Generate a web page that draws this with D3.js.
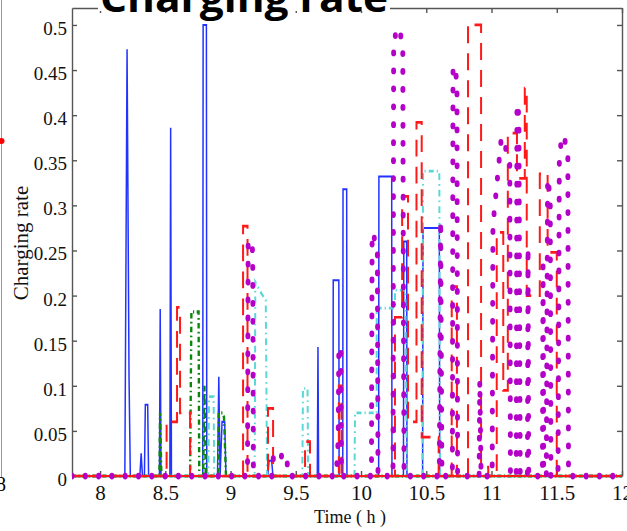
<!DOCTYPE html>
<html>
<head>
<meta charset="utf-8">
<script src="https://cdn.jsdelivr.net/npm/d3@7"></script>
<style>
    body { margin: 0; background: #fff; }
    svg { display: block; }
</style>
</head>
<body>
<div id="chart"></div>
<script>
// axis ticks
const timeTicks = [8, 8.5, 9, 9.5, 10, 10.5, 11, 11.5, 12];
const rateTicks = [0, 0.05, 0.1, 0.15, 0.2, 0.25, 0.3, 0.35, 0.4, 0.45, 0.5];
const timeDomain = [7.785, 12];
const rateMax = 0.5188;

// series as [time (h), charging rate]
const blueSeries = [
    [7.785, 0], [8.19, 0], [8.207, 0.473], [8.222, 0.11], [8.232, 0],
    [8.305, 0], [8.315, 0.025], [8.325, 0], [8.34, 0], [8.347, 0.079], [8.365, 0.079], [8.372, 0],
    [8.455, 0], [8.461, 0.185], [8.467, 0],
    [8.535, 0], [8.541, 0.386], [8.547, 0],
    [8.787, 0], [8.79, 0.5], [8.815, 0.5], [8.818, 0],
    [8.9, 0], [8.91, 0.11], [8.92, 0], [8.935, 0.06], [8.955, 0.06], [8.965, 0],
    [9.285, 0], [9.295, 0.017], [9.315, 0.017], [9.325, 0],
    [9.665, 0], [9.67, 0.143], [9.675, 0],
    [9.785, 0], [9.787, 0.217], [9.83, 0.217], [9.832, 0],
    [9.86, 0], [9.862, 0.318], [9.89, 0.318], [9.892, 0],
    [10.135, 0], [10.137, 0.332], [10.235, 0.332], [10.237, 0],
    [10.325, 0], [10.328, 0.26], [10.35, 0.26], [10.352, 0],
    [10.472, 0], [10.475, 0.275], [10.6, 0.275], [10.603, 0],
    [12, 0]
];

const greenSeries = [
    [7.785, 0], [8.455, 0], [8.46, 0.07], [8.47, 0],
    [8.69, 0], [8.7, 0.182], [8.755, 0.182], [8.76, 0],
    [8.79, 0], [8.8, 0.1], [8.81, 0],
    [8.905, 0], [8.91, 0.07], [8.94, 0.07], [8.95, 0.065], [8.965, 0],
    [12, 0]
];

const cyanSeries = [
    [7.785, 0], [8.83, 0], [8.835, 0.088], [8.87, 0.088], [8.875, 0],
    [9.185, 0], [9.19, 0.215], [9.225, 0.205], [9.27, 0.195], [9.28, 0],
    [9.55, 0], [9.555, 0.097], [9.59, 0.097], [9.595, 0],
    [9.95, 0], [9.954, 0.07], [10.12, 0.07], [10.12, 0.186], [10.26, 0.186],
    [10.26, 0.206], [10.34, 0.206], [10.35, 0],
    [10.47, 0], [10.475, 0.338], [10.6, 0.338], [10.605, 0],
    [12, 0]
];

const redSeries = [
    [7.785, 0], [8.51, 0], [8.51, 0.06], [8.59, 0.06], [8.59, 0.187], [8.613, 0.187],
    [8.613, 0.07], [8.69, 0.07], [8.69, 0],
    [9.096, 0], [9.096, 0.277], [9.13, 0.277], [9.13, 0],
    [9.287, 0], [9.287, 0.075], [9.326, 0.075], [9.326, 0],
    [9.571, 0], [9.571, 0.038], [9.609, 0.038], [9.609, 0],
    [9.83, 0], [9.83, 0.1], [9.85, 0.1], [9.85, 0],
    [10.26, 0], [10.26, 0.176], [10.315, 0.176], [10.315, 0.31], [10.36, 0.31],
    [10.36, 0.06], [10.425, 0.06], [10.425, 0.392], [10.465, 0.392],
    [10.465, 0.043], [10.595, 0.043], [10.595, 0],
    [10.695, 0], [10.695, 0.21], [10.735, 0.21], [10.735, 0],
    [10.82, 0], [10.82, 0.5], [10.92, 0.5], [10.92, 0.01], [10.975, 0.01], [10.975, 0],
    [11.04, 0], [11.04, 0.27], [11.09, 0.27], [11.09, 0.095], [11.125, 0.095],
    [11.125, 0.38], [11.195, 0.38], [11.195, 0.33], [11.255, 0.33], [11.255, 0.43],
    [11.27, 0.43], [11.27, 0.2], [11.37, 0.2], [11.37, 0.335], [11.43, 0.335],
    [11.43, 0.248], [11.5, 0.248], [11.5, 0],
    [12, 0]
];

const magentaSeries = [
    [7.785, 0], [9.13, 0], [9.135, 0.262], [9.17, 0.25], [9.175, 0],
    [9.32, 0], [9.33, 0.025], [9.36, 0.02], [9.43, 0.025], [9.44, 0],
    [9.81, 0], [9.825, 0.04], [9.83, 0.143], [9.845, 0.143], [9.85, 0],
    [10.08, 0], [10.085, 0.27], [10.125, 0.255], [10.13, 0],
    [10.245, 0], [10.25, 0.484], [10.29, 0.497], [10.32, 0.478], [10.325, 0.18], [10.33, 0],
    [10.6, 0], [10.61, 0.284], [10.62, 0],
    [10.7, 0], [10.705, 0.455], [10.735, 0.44], [10.74, 0],
    [10.905, 0], [10.91, 0.106], [10.92, 0],
    [11.005, 0], [11.011, 0.278], [11.075, 0.375], [11.085, 0.375], [11.14, 0.348], [11.145, 0],
    [11.19, 0], [11.195, 0.413], [11.21, 0.4], [11.215, 0.19], [11.22, 0],
    [11.275, 0], [11.28, 0.254], [11.285, 0],
    [11.39, 0], [11.395, 0.232], [11.4, 0],
    [11.42, 0], [11.43, 0.33], [11.45, 0.31], [11.455, 0],
    [11.51, 0], [11.52, 0.36], [11.55, 0.378], [11.585, 0.36], [11.59, 0],
    [12, 0]
];

const width = 627;
const height = 531;
const plot = { left: 72, right: 622, top: 8, bottom: 476 };
const stretch = 1.35; // the picture is taller than wide, dots and dashes too

const svg = d3.select("#chart")
    .append("svg")
    .attr("width", width)
    .attr("height", height);

let x = d3.scaleLinear()
    .domain(timeDomain)
    .range([plot.left, plot.right]);

let y = d3.scaleLinear()
    .domain([0, rateMax])
    .range([plot.bottom, plot.top]);

// scale used inside the stretched group
let yLine = d3.scaleLinear()
    .domain([0, rateMax])
    .range([plot.bottom, plot.bottom - (plot.bottom - plot.top) / stretch]);

// left edge remnant of the neighbouring panel
svg.append("line")
    .attr("x1", 1.5).attr("x2", 1.5)
    .attr("y1", 0).attr("y2", 478)
    .attr("stroke", "#999")
    .attr("stroke-width", 1);
svg.append("circle")
    .attr("cx", 1.5).attr("cy", 141).attr("r", 3)
    .attr("fill", "#f00");
svg.append("text")
    .attr("x", -4).attr("y", 491)
    .attr("font-family", "'Liberation Serif', 'Times New Roman', serif")
    .attr("font-size", 20)
    .text("8");

// axes, ticks pointing inward
let axisColor = "#555";

let xAxis = svg.append("g")
    .attr("transform", "translate(0," + plot.bottom + ")")
    .call(d3.axisBottom(x)
        .tickValues(timeTicks)
        .tickFormat(d => String(d))
        .tickSizeInner(-5)
        .tickSizeOuter(0)
        .tickPadding(9));
xAxis.selectAll("text")
    .attr("font-family", "'Liberation Serif', 'Times New Roman', serif")
    .attr("font-size", 21)
    .attr("fill", "#111");

let yAxis = svg.append("g")
    .attr("transform", "translate(" + plot.left + ",0)")
    .call(d3.axisLeft(y)
        .tickValues(rateTicks)
        .tickFormat(d => String(d))
        .tickSizeInner(-5)
        .tickSizeOuter(0)
        .tickPadding(5));
yAxis.selectAll("text")
    .attr("font-family", "'Liberation Serif', 'Times New Roman', serif")
    .attr("font-size", 19)
    .attr("dy", "0.5em")
    .attr("fill", "#111");

svg.append("g")
    .attr("transform", "translate(0," + plot.top + ")")
    .call(d3.axisTop(x)
        .tickValues(timeTicks)
        .tickFormat("")
        .tickSizeInner(-5)
        .tickSizeOuter(0));

svg.append("g")
    .attr("transform", "translate(" + plot.right + ",0)")
    .call(d3.axisRight(y)
        .tickValues(rateTicks)
        .tickFormat("")
        .tickSizeInner(-5)
        .tickSizeOuter(0));

svg.selectAll(".domain, .tick line")
    .attr("stroke", axisColor)
    .attr("stroke-width", 1.4);

// axis titles
svg.append("text")
    .attr("x", 350)
    .attr("y", 523)
    .attr("text-anchor", "middle")
    .attr("font-family", "'Liberation Serif', 'Times New Roman', serif")
    .attr("font-size", 18)
    .attr("fill", "#111")
    .text("Time ( h )");

svg.append("text")
    .attr("transform", "translate(28,243) rotate(-90)")
    .attr("text-anchor", "middle")
    .attr("font-family", "'Liberation Serif', 'Times New Roman', serif")
    .attr("font-size", 21)
    .attr("fill", "#111")
    .text("Charging rate");

// data lines
svg.append("clipPath")
    .attr("id", "plot-clip")
    .append("rect")
    .attr("x", plot.left)
    .attr("y", plot.top)
    .attr("width", plot.right - plot.left + 3)
    .attr("height", plot.bottom - plot.top + 8);

let lineLayer = svg.append("g")
    .attr("clip-path", "url(#plot-clip)")
    .append("g")
    .attr("transform", "translate(0," + plot.bottom + ") scale(1," + stretch + ") translate(0," + (-plot.bottom) + ")");

let line = d3.line()
    .x(d => x(d[0]))
    .y(d => yLine(d[1]));

let styles = [
    { data: blueSeries, color: "#2233ff", width: 1.5, dash: null, cap: "butt" },
    { data: greenSeries, color: "#0b880b", width: 2.4, dash: "4 2.5 1.2 2.5", cap: "butt" },
    { data: cyanSeries, color: "#5ad8d8", width: 2, dash: "5 3 1.2 3", cap: "butt" },
    { data: redSeries, color: "#ff1a1a", width: 2, dash: "12.5 7.5", cap: "butt" }
];

styles.forEach(s => {
    lineLayer.append("path")
        .datum(s.data)
        .attr("fill", "none")
        .attr("stroke", s.color)
        .attr("stroke-width", s.width)
        .attr("stroke-dasharray", s.dash)
        .attr("stroke-linecap", s.cap)
        .attr("d", line);
});

// red runs along zero for most of the day
lineLayer.append("path")
    .datum([[timeDomain[0], 0], [timeDomain[1], 0]])
    .attr("fill", "none")
    .attr("stroke", "#ff1a1a")
    .attr("stroke-width", 1.6)
    .attr("d", line);

lineLayer.append("path")
    .datum(magentaSeries)
    .attr("fill", "none")
    .attr("stroke", "#b400c8")
    .attr("stroke-width", 5)
    .attr("stroke-linecap", "round")
    .attr("stroke-dasharray", "0 13.3")
    .attr("d", line);

// title, partly cut off at the top
svg.append("rect")
    .attr("x", 98).attr("y", 0)
    .attr("width", 292).attr("height", 11)
    .attr("fill", "#fff");

svg.append("text")
    .attr("x", 100)
    .attr("y", 12)
    .attr("textLength", 288)
    .attr("lengthAdjust", "spacingAndGlyphs")
    .attr("font-family", "'Open Sans', 'Noto Sans', sans-serif")
    .attr("font-weight", "bold")
    .attr("font-size", 40)
    .attr("fill", "#000")
    .text("Charging rate");
</script>
</body>
</html>
